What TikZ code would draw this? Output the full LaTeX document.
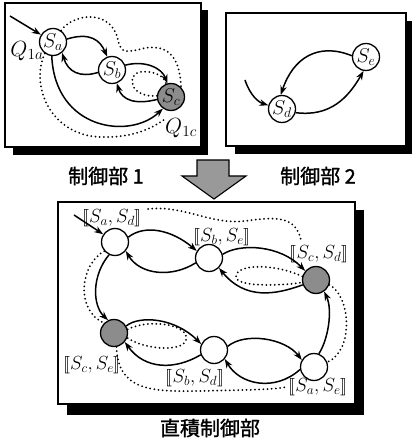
\RequirePackage{fix-cm}
\documentclass[tikz,border=0pt]{standalone}
\usepackage{fontspec}
\usepackage{stmaryrd}
\newfontfamily\jp[FakeBold=1.3]{Noto Sans CJK JP}
\usetikzlibrary{arrows.meta}
\begin{document}
\begin{tikzpicture}[x=1pt,y=-1pt,
  st/.style={circle, draw, line width=1.3pt, minimum size=27pt, inner sep=0pt, fill=white, font=\fontsize{20}{22}\selectfont},
  gst/.style={st, fill=black!45},
  lbl/.style={font=\fontsize{19}{21}\selectfont, inner sep=0pt},
  qlbl/.style={font=\fontsize{22}{24}\selectfont, inner sep=0pt},
  jl/.style={font=\jp\fontsize{20}{22}\selectfont, inner sep=0pt},
  arr/.style={line width=1.5pt, -{Stealth[length=9pt,width=6.5pt]}},
  dots/.style={line width=2pt, dash pattern=on 0pt off 4.2pt, line cap=round},
  box/.style={draw, line width=1.3pt, fill=white},
  shadow/.style={fill=black}
]
\useasboundingbox (0,0) rectangle (412,443);
% boxes
\fill[shadow] (13,10) rectangle (208,155);
\draw[box] (5,3) rectangle (201,147);
\fill[shadow] (235,21) rectangle (412,154);
\draw[box] (226,13) rectangle (406,146);
\fill[shadow] (67,210) rectangle (364,415);
\draw[box] (58,202) rectangle (355,404);
% big arrow
\draw[line width=1.1pt, fill=black!40] (197,160) -- (229,160) -- (229,176) -- (246,176) -- (214,199) -- (182,176) -- (197,176) -- cycle;
% texts
\node[jl] (t1) at (106,176) {制御部 1};
\node[jl] (t2) at (318,176) {制御部 2};
\node[jl] (t3) at (210,428) {直積制御部};

% ---------- panel 1 ----------
\node[st] (Sa) at (53,42) {$S_a$};
\node[st] (Sb) at (112,70) {$S_b$};
\node[gst] (Sc) at (171,97) {$S_c$};
\node[qlbl] (Q1a) at (27,51) {$Q_{1a}$};
\node[qlbl] (Q1c) at (181,128) {$Q_{1c}$};
\coordinate (ia) at (10,16);
\coordinate (qe) at (165,119);
\draw[arr] (ia) -- (Sa);
\draw[arr] (Sa.12) .. controls (90,32) and (100,40) .. (Sb.110);
\draw[arr] (Sb.190) .. controls (80,78) and (68,72) .. (Sa.-50);
\draw[arr] (Sb.20) .. controls (145,60) and (162,68) .. (Sc.105);
\draw[arr] (Sc.190) .. controls (135,105) and (122,100) .. (Sb.-70);
\draw[arr] (Sa.-95) .. controls (55,130) and (130,140) .. (Sc.235);
\draw[dots] (Sa.55) .. controls (75,12) and (112,10) .. (118,40) .. controls (121,55) and (128,52) .. (145,48) .. controls (170,44) and (180,60) .. (Sc.45);
\draw[dots] (Sc.175) .. controls (130,98) and (126,75) .. (140,72) .. controls (152,70) and (165,76) .. (Sc.110);
\draw[dots] (Sa.-125) .. controls (30,85) and (50,135) .. (100,137) .. controls (130,138) and (150,130) .. (qe);

% ---------- panel 2 ----------
\node[st] (Se) at (366,57) {$S_e$};
\node[st] (Sd) at (282,109) {$S_d$};
\coordinate (ib) at (245,80);
\draw[arr] (ib) .. controls (250,95) and (258,102) .. (Sd.165);
\draw[arr] (Se.175) .. controls (318,42) and (293,58) .. (Sd.95);
\draw[arr] (Sd.-15) .. controls (330,117) and (348,98) .. (Se.-100);

% ---------- product ----------
\node[st] (N1) at (115,242) {};
\node[st] (N2) at (209,258) {};
\node[gst] (N3) at (316,280) {};
\node[gst] (N4) at (114,333) {};
\node[st] (N5) at (214,350) {};
\node[st] (N6) at (314,367) {};
\node[lbl] (L1) at (112,218) {$\llbracket S_a,S_d\rrbracket$};
\node[lbl] (L2) at (222,237) {$\llbracket S_b,S_e\rrbracket$};
\node[lbl] (L3) at (319,254) {$\llbracket S_c,S_d\rrbracket$};
\node[lbl] (L4) at (92,365) {$\llbracket S_c,S_e\rrbracket$};
\node[lbl] (L5) at (195,378) {$\llbracket S_b,S_d\rrbracket$};
\node[lbl] (L6) at (318,387) {$\llbracket S_a,S_e\rrbracket$};
\coordinate (ic) at (74,215);
\coordinate (d1) at (148,209);
\coordinate (d2) at (301,240);
\coordinate (d3) at (287,387);
\draw[arr] (ic) -- (N1);
\draw[arr] (N1.20) .. controls (145,224) and (172,230) .. (N2.150);
\draw[arr] (N2.200) .. controls (172,278) and (140,275) .. (N1.-40);
\draw[arr] (N2.15) .. controls (240,243) and (280,245) .. (N3.140);
\draw[arr] (N3.200) .. controls (275,295) and (245,300) .. (N2.-45);
\draw[arr] (N1.-115) .. controls (92,275) and (92,305) .. (N4.115);
\draw[arr] (N4.30) .. controls (140,315) and (175,318) .. (N5.155);
\draw[arr] (N5.200) .. controls (175,370) and (145,370) .. (N4.-40);
\draw[arr] (N5.15) .. controls (245,332) and (285,338) .. (N6.150);
\draw[arr] (N6.190) .. controls (275,392) and (240,385) .. (N5.-40);
\draw[arr] (N6.70) .. controls (328,340) and (333,310) .. (N3.-55);
\draw[dots] (d1) .. controls (185,205) and (210,225) .. (245,221) .. controls (275,217) and (295,215) .. (d2);
\draw[dots] (N3.-20) .. controls (350,295) and (355,350) .. (N6.20);
\draw[dots] (N1.-140) .. controls (80,265) and (75,310) .. (N4.135);
\draw[dots] (N3.165) .. controls (270,262) and (235,265) .. (236,277) .. controls (237,287) and (280,286) .. (N3.190);
\draw[dots] (N4.15) .. controls (150,318) and (190,325) .. (186,340) .. controls (183,352) and (145,350) .. (N4.-20);
\draw[dots] (N4.-80) .. controls (118,390) and (150,392) .. (200,391) .. controls (240,390) and (270,390) .. (d3);
\end{tikzpicture}
\end{document}
